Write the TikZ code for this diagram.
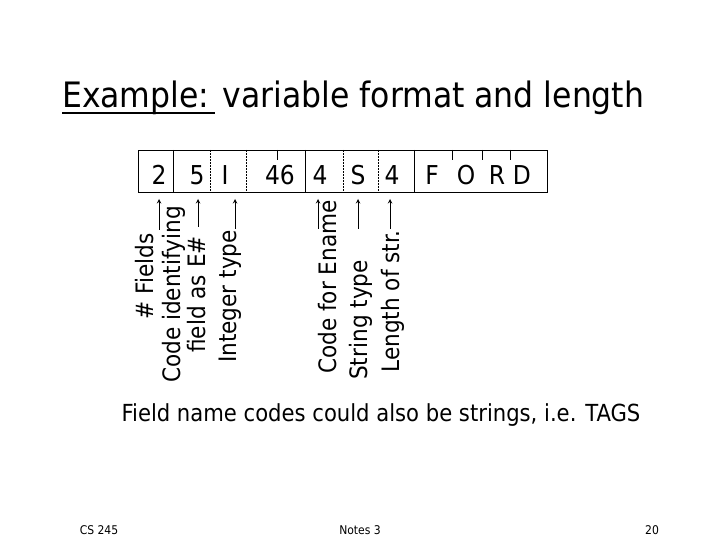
\documentclass[tikz,border=0pt]{standalone}
\usepackage{fontspec}
\setmainfont{DejaVu Sans}
\newfontfamily\cond{DejaVu Sans Condensed}
\begin{document}
\begin{tikzpicture}[x=1pt,y=-1pt,
  lbl/.style={rotate=90,anchor=east,font=\cond\fontsize{24}{25}\selectfont,inner sep=0pt,align=center},
  ch/.style={font=\cond\fontsize{26}{28}\selectfont,inner sep=0pt},
  arr/.style={->,>=stealth,line width=1pt},
  dot/.style={densely dotted,line width=0.5pt}]
\useasboundingbox[fill=white] (0,0) rectangle (720,540);
\node[anchor=base west,font=\cond\fontsize{35}{40}\selectfont,inner sep=0pt] (title) at (62,108) {Example: variable format and length};
\draw[line width=1.3pt] (62,113) -- (215,113);
\draw[line width=0.8pt] (138,150) rectangle (547,192);
\foreach \x in {173,305,414} \draw[line width=0.8pt] (\x,150) -- (\x,192);
\foreach \x in {210,246,343,378} \draw[dot] (\x,150) -- (\x,192);
\foreach \x in {277,452,482,510} \draw[line width=0.5pt] (\x,150) -- (\x,160);
\foreach \t/\x [count=\i] in {2/159,5/197,I/225,46/280,4/320,S/358,4/392,F/432,O/466,R/497,D/522}
  \node[ch,anchor=base] (c\i) at (\x,185) {\t};
\node[lbl] (l1) at (145,233) {\# Fields};
\node[lbl] (l2) at (184,206) {Code identifying\\field as E\#};
\node[lbl] (l3) at (230,230) {Integer type};
\node[lbl] (l4) at (328,200) {Code for Ename};
\node[lbl] (l5) at (361,260) {String type};
\node[lbl] (l6) at (393,230) {Length of str.};
\foreach \x/\b in {159/230,198/227,235/229,318/229,358/229,390/229}
  \draw[arr] (\x,\b) -- (\x,199);
\node[anchor=base,font=\cond\fontsize{23.5}{26}\selectfont,inner sep=0pt] (note) at (381,421) {Field name codes could also be strings, i.e. TAGS};
\node[anchor=base,font=\cond\fontsize{12}{14}\selectfont,inner sep=0pt] (f1) at (99,534) {CS 245};
\node[anchor=base,font=\cond\fontsize{12}{14}\selectfont,inner sep=0pt] (f2) at (360,534) {Notes 3};
\node[anchor=base,font=\cond\fontsize{12}{14}\selectfont,inner sep=0pt] (f3) at (652,534) {20};
\end{tikzpicture}
\end{document}
